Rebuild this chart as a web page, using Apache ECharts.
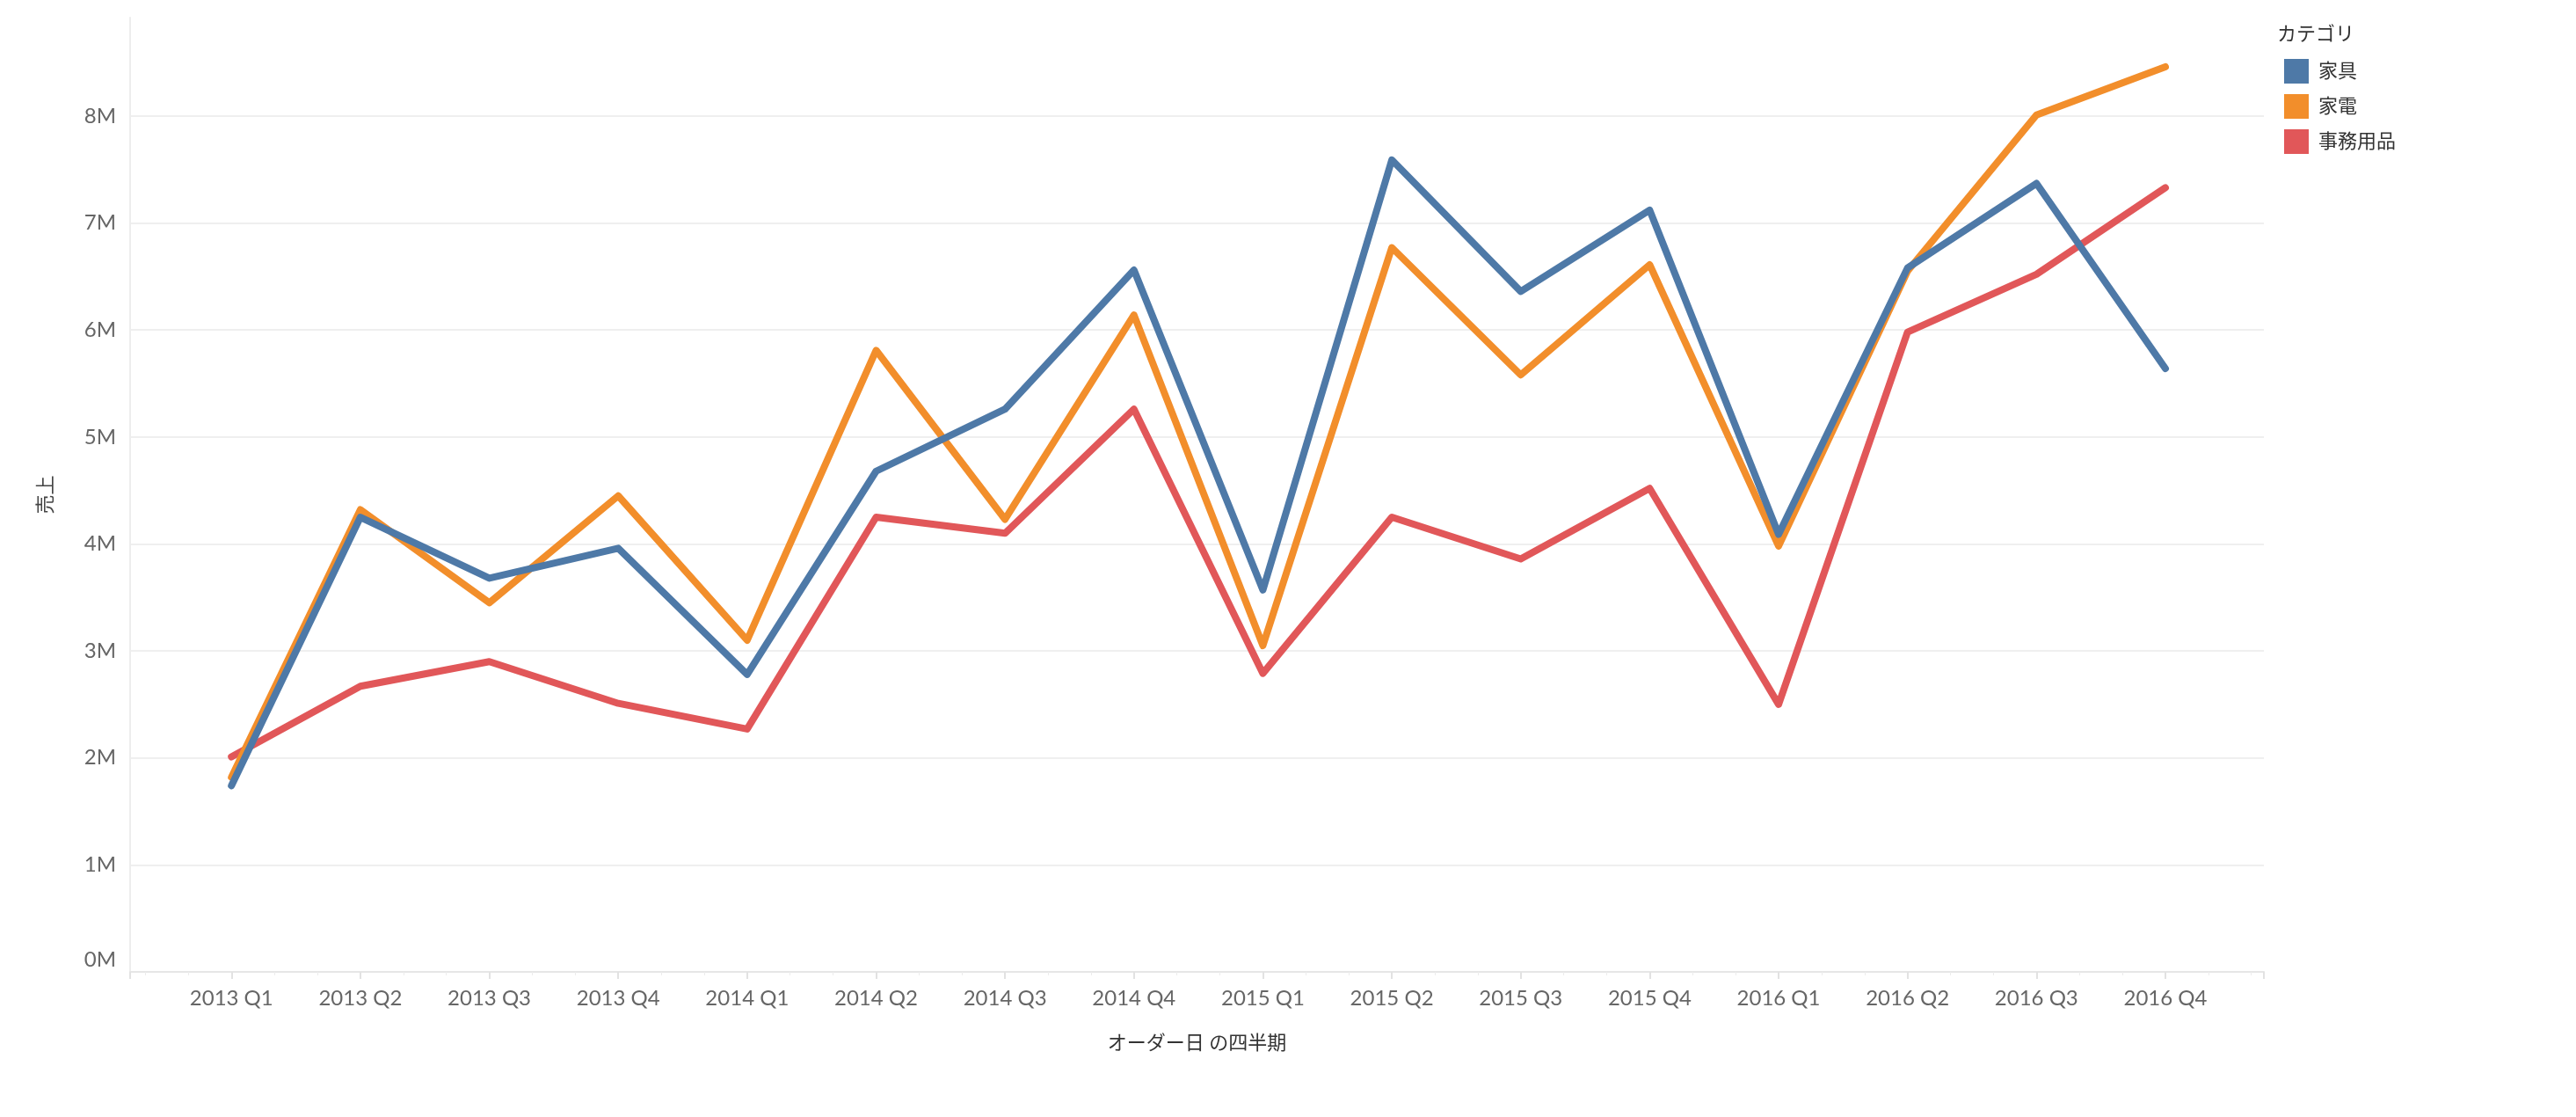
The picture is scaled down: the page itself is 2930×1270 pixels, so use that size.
<!DOCTYPE html>
<html>
<head>
<meta charset="utf-8">
<title>売上 四半期別</title>
<script src="https://cdn.jsdelivr.net/npm/echarts@6/dist/echarts.min.js"></script>
<style>
    html, body { margin: 0; padding: 0; background: #fff; }
    #drawChartBox { width: 2930px; height: 1270px; }
</style>
</head>
<body>
<div id="drawChartBox"></div>
<script>
// オーダー日 の四半期
const quarters = ['2013 Q1','2013 Q2','2013 Q3','2013 Q4','2014 Q1','2014 Q2','2014 Q3','2014 Q4',
                  '2015 Q1','2015 Q2','2015 Q3','2015 Q4','2016 Q1','2016 Q2','2016 Q3','2016 Q4'];
// 売上 (M)
const furniture  = [1.74, 4.25, 3.68, 3.96, 2.78, 4.68, 5.26, 6.56, 3.57, 7.59, 6.36, 7.12, 4.09, 6.58, 7.37, 5.64];
const appliances = [1.82, 4.32, 3.45, 4.45, 3.10, 5.81, 4.23, 6.14, 3.05, 6.77, 5.58, 6.61, 3.98, 6.55, 8.01, 8.46];
const office     = [2.01, 2.67, 2.90, 2.51, 2.27, 4.25, 4.10, 5.26, 2.79, 4.25, 3.86, 4.52, 2.50, 5.98, 6.52, 7.33];
const categoryNames = ['家具', '家電', '事務用品'];
const yTicks = [0, 1, 2, 3, 4, 5, 6, 7, 8];

const colors = {'家具': '#4e79a7', '家電': '#f28e2b', '事務用品': '#e15759'};
const FONT = 'Lato, "Noto Sans CJK JP", sans-serif';

function toPoints(arr){
    return arr.map((v, i) => [i, v * 1e6]);
}

function makeSeries(name, arr){
    return {
        name: name,
        type: 'line',
        data: toPoints(arr),
        showSymbol: false,
        symbol: 'none',
        lineStyle: { width: 8, color: colors[name], cap: 'round', join: 'round' },
        itemStyle: { color: colors[name] },
        emphasis: { disabled: true },
    };
}

let option = {
    animation: false,
    backgroundColor: '#fff',
    title: {
        text: 'カテゴリ',
        left: 2585,
        top: 23,
        textStyle: { fontFamily: FONT, fontSize: 22, fontWeight: 'normal', color: '#333' },
    },
    legend: {
        orient: 'vertical',
        left: 2593,
        top: 62,
        icon: 'rect',
        itemWidth: 28,
        itemHeight: 28,
        itemGap: 12,
        data: categoryNames,
        textStyle: { fontFamily: FONT, fontSize: 22, color: '#333', padding: [0, 0, 0, 6] },
    },
    grid: {
        left: 148,
        right: 355,
        top: 20,
        bottom: 165,
    },
    xAxis: {
        type: 'value',
        min: -0.786,
        max: 15.764,
        minInterval: 1,
        maxInterval: 1,
        name: 'オーダー日 の四半期',
        nameLocation: 'middle',
        nameGap: 70,
        nameTextStyle: { fontFamily: FONT, fontSize: 22, color: '#333' },
        axisLine: { show: true, onZero: false, lineStyle: { color: '#e6e6e6', width: 2 } },
        axisTick: { show: true, length: 8, lineStyle: { color: '#e2e2e2', width: 2 } },
        minorTick: { show: true, splitNumber: 3, length: 4, lineStyle: { color: '#ececec', width: 1 } },
        splitLine: { show: false },
        axisLabel: {
            margin: 18,
            fontFamily: FONT,
            fontSize: 24,
            color: '#666',
            showMinLabel: false,
            showMaxLabel: false,
            formatter: function (v) {
                return Number.isInteger(v) && quarters[v] ? quarters[v] : '';
            },
        },
    },
    yAxis: {
        type: 'value',
        min: 0,
        max: 8.92e6,
        interval: 1e6,
        name: '売上',
        nameLocation: 'middle',
        nameGap: 85,
        nameTextStyle: { fontFamily: FONT, fontSize: 22, color: '#444' },
        axisLine: { show: true, onZero: false, lineStyle: { color: '#ededed', width: 2 } },
        axisTick: { show: false },
        splitLine: { show: true, showMaxLine: false, showMinLine: false, lineStyle: { color: '#efefef', width: 2 } },
        axisLabel: {
            margin: 16,
            fontFamily: FONT,
            fontSize: 24,
            color: '#666',
            showMaxLabel: false,
            formatter: function (v) {
                let m = Math.round(v / 1e6);
                if (yTicks.indexOf(m) < 0 || Math.abs(v - m * 1e6) > 1) return '';
                // 0M is nudged up like the original
                return m === 0 ? '{z|0M}' : m + 'M';
            },
            rich: {
                z: { fontFamily: FONT, fontSize: 24, color: '#666', padding: [0, 0, 28, 0] },
            },
        },
    },
    // draw order: 事務用品 at the bottom, 家具 on top
    series: [
        makeSeries('事務用品', office),
        makeSeries('家電', appliances),
        makeSeries('家具', furniture),
    ],
};

let myChart = echarts.init(document.getElementById('drawChartBox'));
myChart.setOption(option);
</script>
</body>
</html>
